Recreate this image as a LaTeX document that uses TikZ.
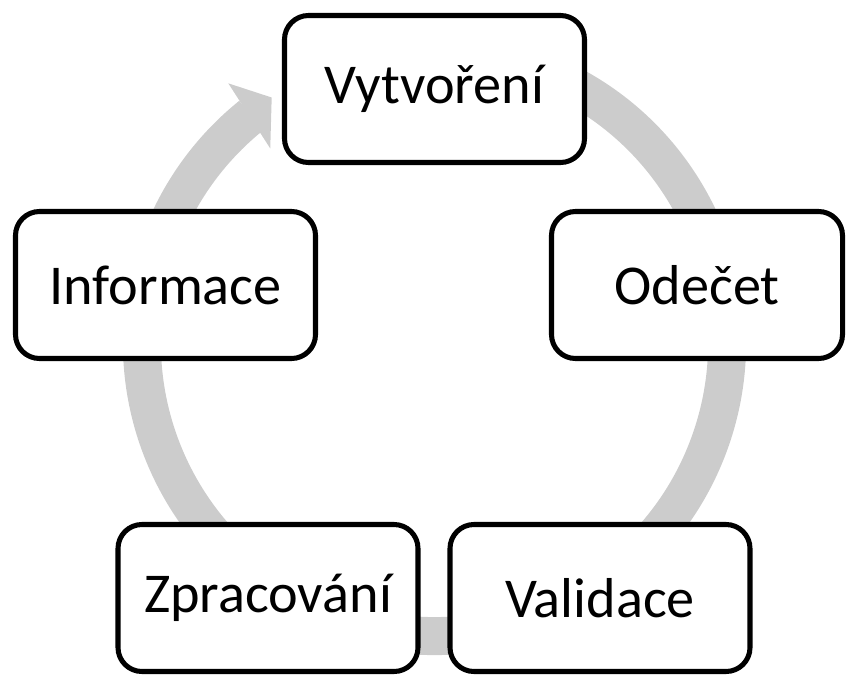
\documentclass[tikz,border=0pt]{standalone}
\usepackage{fontspec}
\setmainfont{Carlito}
\usetikzlibrary{calc}
\definecolor{ringgray}{RGB}{204,204,204}
\tikzset{
  stage/.style={draw=black, line width=4.3pt, fill=white, rounded corners=0.72cm,
    minimum width=9cm, minimum height=4.41cm, inner sep=0pt,
    font=\fontsize{48}{56}\selectfont},
  ring/.style={draw=ringgray, line width=1.14cm},
  ringhead/.style={fill=ringgray, draw=none}
}
\begin{document}
\begin{tikzpicture}[x=0.03cm, y=0.03cm]
  \useasboundingbox (0,0) rectangle (846,-675);
  % centre of the cycle
  \coordinate (c) at (434.5,-343.5);

  % grey cycle band, running clockwise
  \draw[ring] ($(c)+(70:292.5)$) arc[start angle=70, end angle=-231.2, radius=292.5];
  % arrow head of the band
  \fill[ringhead] ($(c)+(128.4:332)$) -- ($(c)+(123.5:295)$) -- ($(c)+(130.1:255)$) -- cycle;

  % stages
  \node[stage] (vyt) at (434.5,-89) {Vytvoření};
  \node[stage, minimum width=8.73cm] (ode) at (697,-285) {Odečet};
  \node[stage] (val) at (600,-598) {Validace};
  \node[stage] (zpr) at (268,-598) {Zpracování};
  \node[stage] (inf) at (165.5,-285) {Informace};
\end{tikzpicture}
\end{document}
